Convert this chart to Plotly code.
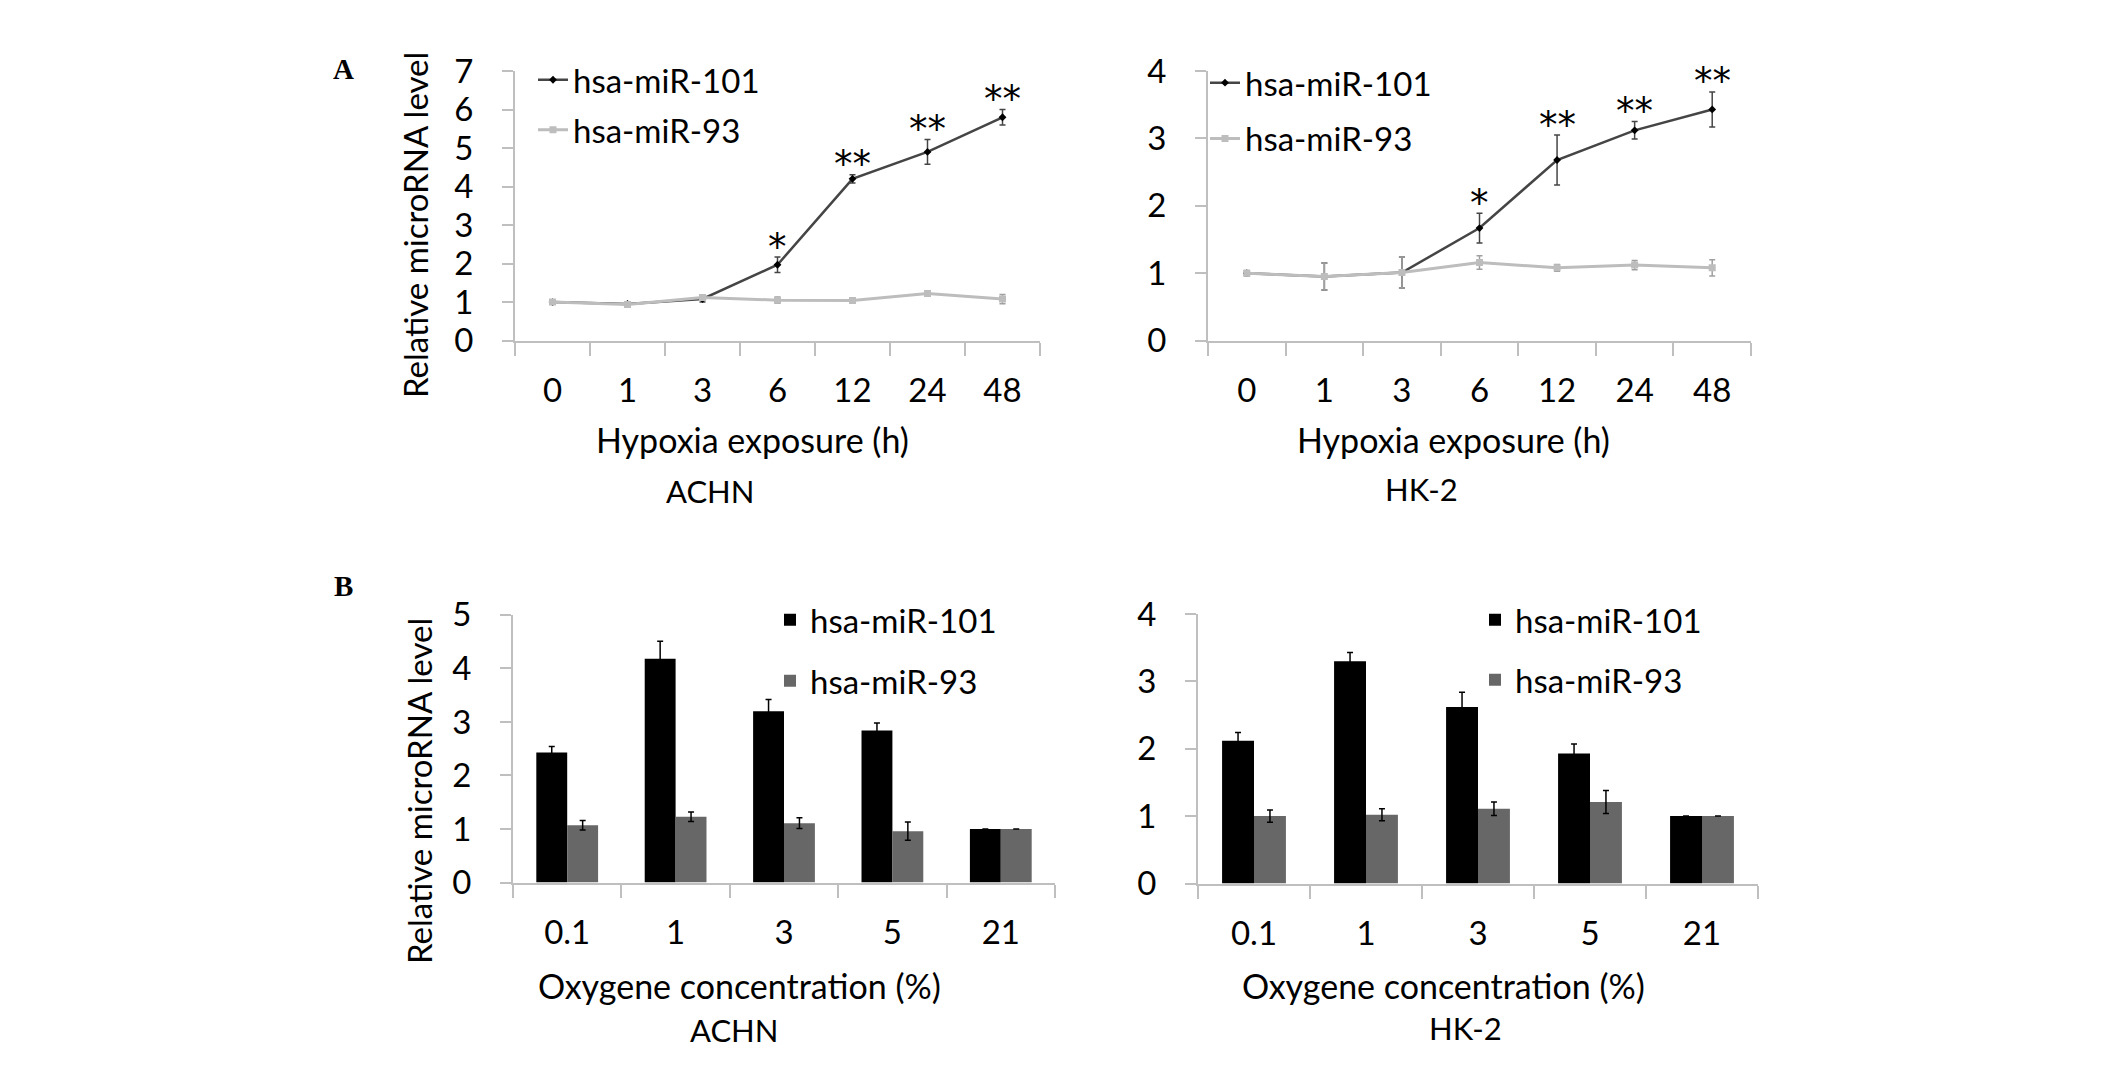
import plotly.graph_objects as go

# ---------------- data ----------------
hours = ["0", "1", "3", "6", "12", "24", "48"]
achn_line_101 = [1.0, 0.95, 1.08, 1.97, 4.20, 4.90, 5.80]
achn_line_101_err = [0.04, 0.04, 0.08, 0.20, 0.11, 0.32, 0.20]
achn_line_93 = [1.0, 0.94, 1.12, 1.05, 1.04, 1.22, 1.08]
achn_line_93_err = [0.05, 0.05, 0.06, 0.08, 0.05, 0.05, 0.12]
achn_stars = ["", "", "", "*", "**", "**", "**"]

hk2_line_101 = [1.0, 0.95, 1.01, 1.67, 2.68, 3.12, 3.43]
hk2_line_101_err = [0.03, 0.20, 0.23, 0.22, 0.37, 0.13, 0.26]
hk2_line_93 = [1.0, 0.95, 1.01, 1.16, 1.08, 1.12, 1.08]
hk2_line_93_err = [0.04, 0.20, 0.23, 0.10, 0.05, 0.07, 0.12]
hk2_stars = ["", "", "", "*", "**", "**", "**"]

oxygen = ["0.1", "1", "3", "5", "21"]
achn_bar_101 = [2.43, 4.18, 3.20, 2.84, 1.0]
achn_bar_101_err = [0.11, 0.33, 0.22, 0.14, 0.0]
achn_bar_93 = [1.07, 1.23, 1.11, 0.96, 1.0]
achn_bar_93_err = [0.09, 0.09, 0.10, 0.17, 0.0]

hk2_bar_101 = [2.12, 3.30, 2.62, 1.93, 1.0]
hk2_bar_101_err = [0.12, 0.13, 0.22, 0.14, 0.0]
hk2_bar_93 = [1.00, 1.02, 1.11, 1.21, 1.0]
hk2_bar_93_err = [0.09, 0.09, 0.10, 0.17, 0.0]

series_names = ["hsa-miR-101", "hsa-miR-93"]

# ---------------- styles ----------------
FONT = "Lato"
FS = 33
AXC = "#bfbfbf"
DARK_LINE = "#454545"
LIGHT_LINE = "#bdbdbd"
BAR_DARK = "#000000"
BAR_GRAY = "#676767"

W, H = 2126, 1070

fig = go.Figure()


def line_pair(v101, e101, v93, e93, xa, ya, leg):
    fig.add_trace(go.Scatter(
        x=hours, y=v101, name=series_names[0], mode="lines+markers",
        line=dict(color=DARK_LINE, width=2.5),
        marker=dict(color="#000000", size=6, symbol="diamond"),
        error_y=dict(type="data", array=e101, color=DARK_LINE, thickness=1.5, width=3),
        xaxis=xa, yaxis=ya, legend=leg, legendgroup=leg + "a"))
    fig.add_trace(go.Scatter(
        x=hours, y=v93, name=series_names[1], mode="lines+markers",
        line=dict(color=LIGHT_LINE, width=3),
        marker=dict(color=LIGHT_LINE, size=7, symbol="square"),
        error_y=dict(type="data", array=e93, color="#a0a0a0", thickness=1.5, width=3),
        xaxis=xa, yaxis=ya, legend=leg, legendgroup=leg + "b"))


def bar_pair(v101, e101, v93, e93, xa, ya, leg):
    fig.add_trace(go.Bar(
        x=oxygen, y=v101, name=series_names[0], marker=dict(color=BAR_DARK, line=dict(width=0)),
        error_y=dict(type="data", array=e101, color="#000000", thickness=1.5, width=3),
        xaxis=xa, yaxis=ya, legend=leg, legendgroup=leg + "a"))
    fig.add_trace(go.Bar(
        x=oxygen, y=v93, name=series_names[1], marker=dict(color=BAR_GRAY, line=dict(width=0)),
        error_y=dict(type="data", array=e93, color="#000000", thickness=1.5, width=3),
        xaxis=xa, yaxis=ya, legend=leg, legendgroup=leg + "b"))


line_pair(achn_line_101, achn_line_101_err, achn_line_93, achn_line_93_err, "x", "y", "legend")
line_pair(hk2_line_101, hk2_line_101_err, hk2_line_93, hk2_line_93_err, "x2", "y2", "legend2")
bar_pair(achn_bar_101, achn_bar_101_err, achn_bar_93, achn_bar_93_err, "x3", "y3", "legend3")
bar_pair(hk2_bar_101, hk2_bar_101_err, hk2_bar_93, hk2_bar_93_err, "x4", "y4", "legend4")


def px(v):
    return v / W


def py(v):
    return 1 - v / H


xcommon = dict(type="category", showline=True, linecolor=AXC, linewidth=2,
               ticks="outside", tickson="boundaries", ticklen=13, tickcolor=AXC, tickwidth=2,
               showgrid=False, zeroline=False, ticklabelstandoff=20,
               tickfont=dict(family=FONT, size=FS, color="#000000"))
ycommon = dict(showline=True, linecolor=AXC, linewidth=2, ticks="outside", ticklen=11,
               tickcolor=AXC, tickwidth=2, showgrid=False, zeroline=False, dtick=1,
               ticklabelstandoff=22,
               tickfont=dict(family=FONT, size=FS, color="#000000"))

fig.update_layout(
    width=W, height=H,
    margin=dict(l=0, r=0, t=0, b=0),
    paper_bgcolor="white", plot_bgcolor="white",
    barmode="group", bargap=0.43, bargroupgap=0,
    font=dict(family=FONT, size=FS, color="#000000"),
    xaxis=dict(domain=[px(515), px(1040)], anchor="y", range=[-0.5, 6.5], **xcommon),
    yaxis=dict(domain=[py(332), py(52)], anchor="x", range=[0, 7], **ycommon),
    xaxis2=dict(domain=[px(1208), px(1751)], anchor="y2", range=[-0.5, 6.5], **xcommon),
    yaxis2=dict(domain=[py(332), py(52)], anchor="x2", range=[0, 4], **ycommon),
    xaxis3=dict(domain=[px(513), px(1055)], anchor="y3", range=[-0.5, 4.5], **xcommon),
    yaxis3=dict(domain=[py(895), py(617)], anchor="x3", range=[0, 5], **ycommon),
    xaxis4=dict(domain=[px(1198), px(1758)], anchor="y4", range=[-0.5, 4.5], **xcommon),
    yaxis4=dict(domain=[py(896), py(616)], anchor="x4", range=[0, 4], **ycommon),
)

legcommon = dict(xanchor="left", yanchor="top", bgcolor="rgba(0,0,0,0)",
                 font=dict(family=FONT, size=FS, color="#000000"),
                 traceorder="grouped", itemwidth=30)
fig.update_layout(
    legend=dict(x=px(533), y=py(32), tracegroupgap=4, **legcommon),
    legend2=dict(x=px(1205), y=py(35), tracegroupgap=10, **legcommon),
    legend3=dict(x=px(770), y=py(593), tracegroupgap=15, **legcommon),
    legend4=dict(x=px(1475), y=py(593), tracegroupgap=14, **legcommon),
)

ann = []


def text(x, y, s, size=FS, angle=0, family=FONT, bold=False):
    ann.append(dict(x=px(x), y=py(y), xref="paper", yref="paper", text=("<b>%s</b>" % s) if bold else s,
                    showarrow=False, textangle=angle, xanchor="center", yanchor="middle",
                    font=dict(family=family, size=size, color="#000000")))


text(343, 50, "A", size=29, family="Liberation Serif", bold=True)
text(343, 587, "B", size=29, family="Liberation Serif", bold=True)
text(415, 212, "Relative microRNA level", angle=-90)
text(419, 800, "Relative microRNA level", angle=-90)
text(752, 435, "Hypoxia exposure (h)", size=34)
text(710, 488, "ACHN", size=31)
text(1453, 435, "Hypoxia exposure (h)", size=34)
text(1421, 486, "HK-2", size=31)
text(739, 1002, "Oxygene concentration (%)", size=34)
text(734, 1048, "ACHN", size=31)
text(1443, 1002, "Oxygene concentration (%)", size=34)
text(1465, 1046, "HK-2", size=31)


def stars(vals, errs, labels, xa, ya):
    for i, (v, e, s) in enumerate(zip(vals, errs, labels)):
        if s:
            ann.append(dict(x=i, y=v + e, xref=xa, yref=ya, text=s, showarrow=False,
                            xanchor="center", yanchor="middle", yshift=10,
                            font=dict(family="DejaVu Sans", size=37, color="#000000")))


stars(achn_line_101, achn_line_101_err, achn_stars, "x", "y")
stars(hk2_line_101, hk2_line_101_err, hk2_stars, "x2", "y2")

fig.update_layout(annotations=ann)
fig.write_html("out.html", config={"displayModeBar": False},
               post_script="document.body.style.margin='0px';")
